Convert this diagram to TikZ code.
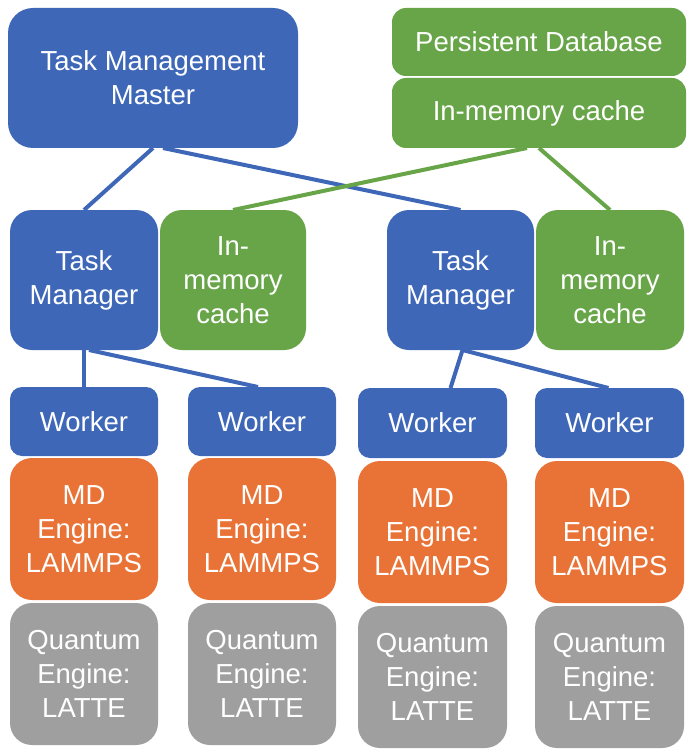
\documentclass[tikz,border=0pt]{standalone}
\usepackage{fontspec}
\setmainfont{Liberation Sans}
\definecolor{cblue}{HTML}{3E67B8}
\definecolor{cgreen}{HTML}{67A548}
\definecolor{corange}{HTML}{E97336}
\definecolor{cgray}{HTML}{9F9F9F}
\tikzset{
  box/.style={anchor=north west, inner sep=0pt, outer sep=0pt, align=center,
    text=white, font=\fontsize{27.5}{34}\selectfont},
  bluebox/.style={box, fill=cblue},
  greenbox/.style={box, fill=cgreen},
  orangebox/.style={box, fill=corange},
  graybox/.style={box, fill=cgray},
  blueline/.style={draw=cblue, line width=4pt},
  greenline/.style={draw=cgreen, line width=4pt},
}
\begin{document}
\begin{tikzpicture}[x=1pt,y=-1pt]
\useasboundingbox (0,0) rectangle (693,754);
% connectors (behind boxes)
\coordinate (dummy) at (0,0);
% top row
\node[bluebox, rounded corners=25pt, minimum width=290pt, minimum height=140pt] (master) at (8,8) {Task Management\\Master};
\node[greenbox, rounded corners=14pt, minimum width=294pt, minimum height=68pt] (pdb) at (392,8) {Persistent Database};
\node[greenbox, rounded corners=14pt, minimum width=294pt, minimum height=70pt] (cache0) at (392,78) {In-memory cache};
% second row
\node[bluebox, rounded corners=22pt, minimum width=148pt, minimum height=140pt] (tm1) at (10,210) {Task\\Manager};
\node[greenbox, rounded corners=22pt, minimum width=146pt, minimum height=140pt] (c1) at (160,210) {In-\\memory\\cache};
\node[bluebox, rounded corners=22pt, minimum width=147pt, minimum height=140pt] (tm2) at (387,210) {Task\\Manager};
\node[greenbox, rounded corners=22pt, minimum width=148pt, minimum height=140pt] (c2) at (536,210) {In-\\memory\\cache};
% workers
\node[bluebox, rounded corners=12pt, minimum width=148pt, minimum height=69pt] (w1) at (10,387) {Worker};
\node[bluebox, rounded corners=12pt, minimum width=148pt, minimum height=69pt] (w2) at (188,387) {Worker};
\node[bluebox, rounded corners=12pt, minimum width=149pt, minimum height=70pt] (w3) at (358,388) {Worker};
\node[bluebox, rounded corners=12pt, minimum width=149pt, minimum height=70pt] (w4) at (535,388) {Worker};
% MD engines
\node[orangebox, rounded corners=22pt, minimum width=148pt, minimum height=142pt] (m1) at (10,458) {MD\\Engine:\\LAMMPS};
\node[orangebox, rounded corners=22pt, minimum width=148pt, minimum height=142pt] (m2) at (188,458) {MD\\Engine:\\LAMMPS};
\node[orangebox, rounded corners=22pt, minimum width=149pt, minimum height=142pt] (m3) at (358,461) {MD\\Engine:\\LAMMPS};
\node[orangebox, rounded corners=22pt, minimum width=149pt, minimum height=142pt] (m4) at (535,461) {MD\\Engine:\\LAMMPS};
% Quantum engines
\node[graybox, rounded corners=22pt, minimum width=148pt, minimum height=142pt] (q1) at (10,603) {Quantum\\Engine:\\LATTE};
\node[graybox, rounded corners=22pt, minimum width=148pt, minimum height=142pt] (q2) at (188,603) {Quantum\\Engine:\\LATTE};
\node[graybox, rounded corners=22pt, minimum width=149pt, minimum height=142pt] (q3) at (358,606) {Quantum\\Engine:\\LATTE};
\node[graybox, rounded corners=22pt, minimum width=149pt, minimum height=142pt] (q4) at (535,606) {Quantum\\Engine:\\LATTE};
% connectors
\draw[blueline] (master.south) -- (tm1.north);
\draw[blueline] ([xshift=10pt]master.south) -- (tm2.north);
\draw[greenline] ([xshift=-12pt]cache0.south) -- (c1.north);
\draw[greenline] (cache0.south) -- (c2.north);
\draw[blueline] (tm1.south) -- (w1.north);
\draw[blueline] ([xshift=5pt]tm1.south) -- ([xshift=-4pt]w2.north);
\draw[blueline] ([xshift=2pt]tm2.south) -- ([xshift=18pt]w3.north);
\draw[blueline] ([xshift=2pt]tm2.south) -- ([xshift=-1pt]w4.north);
\end{tikzpicture}
\end{document}
